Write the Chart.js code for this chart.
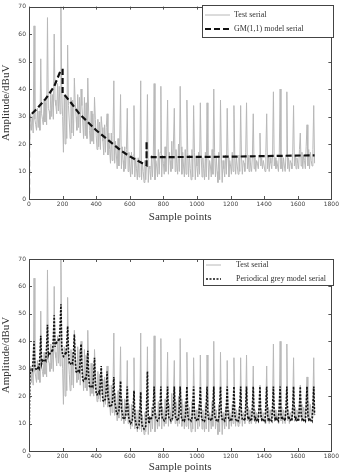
<!DOCTYPE html>
<html>
<head>
<meta charset="utf-8">
<script src="https://cdn.jsdelivr.net/npm/chart.js@4/dist/chart.umd.min.js"></script>
<style>
html,body{margin:0;padding:0;background:#fff;}
#w1{position:absolute;left:0;top:0;width:341px;height:232px;}
#w2{position:absolute;left:0;top:240px;width:341px;height:234px;}
</style>
</head>
<body>
<div id="w1"><canvas id="c1"></canvas></div>
<div id="w2"><canvas id="c2"></canvas></div>
<script>
// sample points of the test serial, one value every 5 samples (0..1700)
const sampleStep = 5;
const testSerial = [
20,24,31,25,30,24,63,29, 27,25,33,26,32,25,51,31, 29,27,36,28,35,27,66,33, 32,29,39,30,38,29,60,36,
34,31,42,32,41,31,70,40, 30,17,38,20,37,22,56,34, 28,22,37,24,36,23,44,35, 30,25,38,26,37,24,40,34,
28,22,37,23,35,22,44,32, 25,20,32,21,31,20,37,29, 23,18,29,19,28,18,30,26,
21,16,27,17,26,31,16,24, 18,13,24,14,23,43,13,21, 16,11,22,12,21,38,11,19, 14,10,19,11,18,33,10,17,
12,8,17,9,16,34,8,15, 11,7,15,8,14,43,7,13, 10,6,14,7,13,38,6,12, 11,7,16,8,15,42,7,14,
12,8,18,9,17,41,8,16, 13,9,19,10,18,36,9,17, 14,10,21,11,20,33,10,18,
13,9,20,10,41,19,9,17, 12,8,18,9,36,17,8,16, 11,7,18,8,34,17,7,15, 12,8,17,9,35,16,8,15,
11,7,17,8,35,16,7,14, 12,8,18,9,40,17,8,15, 10,6,17,7,36,16,6,14, 11,8,16,9,33,15,8,14,
12,9,17,10,34,16,9,15, 12,9,16,10,34,15,9,14,
13,10,17,35,11,16,10,15, 12,10,16,31,11,15,10,14, 13,11,16,24,12,15,11,14, 12,10,17,31,11,16,10,15,
13,11,16,39,12,15,11,14, 12,10,17,40,11,16,10,15, 12,10,16,39,11,15,10,14, 13,11,17,34,12,16,11,15,
13,11,18,24,12,17,11,16, 14,11,19,27,12,18,11,17, 14,12,18,34,13
];
// GM(1,1) model serial (sample point, amplitude)
const gmX = [0,0,50,100,150,190,200,200,210,250,300,350,400,450,500,550,600,650,700,700,700,1200,1700];
const gmY = [2,30,33,36.5,41,47,47,38.5,38,35,31,28,25,22.5,20,17.5,15.5,13.8,12.3,21,15.2,15.4,15.9];
// Periodical grey model serial, one value every 5 samples (0..1700)
const pgmSerial = [
0,27,29.5,30,29.5,33.7,40,31, 30,29.5,30,30.5,30,34.8,42,31.8, 33,32.5,33,33.5,33,38.2,46,35,
36,35.5,36,36.5,36,41.4,49.5,38, 40,39.5,40,40.5,40,45.4,53.5,38, 35,34.5,35,35.5,35,39.2,45.5,36.6,
32,31.5,32,32.5,32,36.2,42.5,33.6, 29,28.5,29,29.5,29,33,39,30.5, 26,25.5,26,26.5,26,30.2,36.5,27.6,
23.5,23,23.5,24,23.5,27.7,34,25, 21,20.5,21,21.5,21,25,31,22.5,
18.5,18,18.5,19,22.7,29,20,18.5, 16.5,16,16.5,17,20.7,27,18,16.5, 14,13.5,14,14.5,18.6,25.5,15.7,14,
12,11.5,12,12.5,16.6,23.5,13.7,12, 10.5,10,10.5,11,15.1,22,12.2,10.5, 9,8.5,9,9.5,14,21.5,10.9,9,
8.5,8,8.5,9,16.7,29,11.6,10, 12,11.5,12,12.5,16.6,23.5,13.7,12, 11.5,11,11.5,12,16.3,23.5,13.3,11.5,
11.5,11,11.5,12,16.3,23.5,13.3,11.5, 11.5,11,11.5,12,16.3,23.5,13.3,11.5,
11.5,11,12,16.3,23.5,13.3,11.5,11.2, 11.5,11,12,16.3,23.5,13.3,11.5,11.2, 11.5,11,12,16.3,23.5,13.3,11.5,11.2,
11.5,11,12,16.3,23.5,13.3,11.5,11.2, 11.5,11,12,16.3,23.5,13.3,11.5,11.2, 11.5,11,12,16.3,23.5,13.3,11.5,11.2,
11.5,11,12,16.3,23.5,13.3,11.5,11.2, 11.5,11,12,16.3,23.5,13.3,11.5,11.2, 11.5,11,12,16.3,23.5,13.3,11.5,11.2,
11.5,11,12,16.3,23.5,13.3,11.5,11.2,
11.5,11,16.3,23.5,13.3,11.5,12,11.2, 11.5,11,16.3,23.5,13.3,11.5,12,11.2, 11.5,11,16.3,23.5,13.3,11.5,12,11.2,
11.5,11,16.3,23.5,13.3,11.5,12,11.2, 11.5,11,16.3,23.5,13.3,11.5,12,11.2, 11.5,11,16.3,23.5,13.3,11.5,12,11.2,
11.5,11,16.3,23.5,13.3,11.5,12,11.2, 11.5,11,16.3,23.5,13.3,11.5,12,11.2, 11.5,11,16.3,23.5,13.3,11.5,12,11.2,
11.5,11,16.3,23.5,13.3,11.5,12,11.2, 11.5,11,16.3,23.5,13.3
];
const xTicks = [0,200,400,600,800,1000,1200,1400,1600,1800];
const yTicks = [0,10,20,30,40,50,60,70];
const xTitle = 'Sample points';
const yTitle = 'Amplitude/dBuV';
const legend1 = ['Test serial','GM(1,1) model serial'];
const legend2 = ['Test serial','Periodical grey model serial'];

const toXY = (arr) => arr.map((v,i)=>({x:i*sampleStep,y:v}));
const pairXY = (xs,ys) => xs.map((x,i)=>({x:x,y:ys[i]}));

const FONT = 'DejaVu Sans';
const SERIF = 'Liberation Serif';

const framePlugin = {
  id:'frame',
  afterDraw(chart){
    const ctx = chart.ctx, a = chart.chartArea;
    const xs = chart.scales.x, ys = chart.scales.y;
    ctx.save();
    ctx.strokeStyle = '#555';
    ctx.lineWidth = 1;
    ctx.beginPath();
    xTicks.forEach(t=>{
      const p = Math.round(xs.getPixelForValue(t))+0.5;
      ctx.moveTo(p,a.bottom); ctx.lineTo(p,a.bottom-3);
      ctx.moveTo(p,a.top); ctx.lineTo(p,a.top+3);
    });
    yTicks.forEach(t=>{
      const p = Math.round(ys.getPixelForValue(t))+0.5;
      ctx.moveTo(a.left,p); ctx.lineTo(a.left+3,p);
      ctx.moveTo(a.right,p); ctx.lineTo(a.right-3,p);
    });
    ctx.stroke();
    ctx.strokeStyle = '#444';
    ctx.strokeRect(Math.round(a.left)+0.5, Math.round(a.top)+0.5, Math.round(a.right-a.left), Math.round(a.bottom-a.top));
    // legend
    const o = chart.options.plugins.boxLegend;
    ctx.fillStyle = '#fff';
    ctx.fillRect(o.x, o.y, o.w, o.h);
    ctx.strokeStyle = '#444';
    ctx.strokeRect(o.x+0.5, o.y+0.5, o.w, o.h);
    ctx.font = '8px "' + SERIF + '"';
    ctx.textBaseline = 'middle';
    ctx.textAlign = 'left';
    o.items.forEach((it,i)=>{
      const ds = chart.data.datasets[i];
      const yy = o.y + o.rows[i];
      ctx.save();
      ctx.strokeStyle = ds.borderColor;
      ctx.lineWidth = ds.borderWidth;
      ctx.setLineDash(ds.borderDash || []);
      ctx.beginPath();
      ctx.moveTo(o.x+3, yy); ctx.lineTo(o.x+o.lineLen, yy);
      ctx.stroke();
      ctx.restore();
      ctx.fillStyle = '#333';
      ctx.fillText(it, o.x+o.textX, yy);
    });
    ctx.restore();
  }
};

function makeChart(id, datasets, legendItems, legendBox, pad, xH){
  return new Chart(document.getElementById(id), {
    type:'line',
    data:{datasets:datasets},
    plugins:[framePlugin],
    options:{
      responsive:true, maintainAspectRatio:false, animation:false,
      layout:{padding:{top:pad.top,right:8,bottom:pad.bottom,left:0}},
      elements:{point:{radius:0}, line:{tension:0}},
      plugins:{legend:{display:false}, tooltip:{enabled:false},
        boxLegend:Object.assign({items:legendItems}, legendBox)},
      scales:{
        x:{type:'linear', min:0, max:1800,
          afterBuildTicks(s){ s.ticks = xTicks.map(v=>({value:v})); },
          afterFit(s){ s.height = xH; },
          ticks:{font:{family:FONT,size:6}, color:'#444', padding:2, maxRotation:0, autoSkip:false,
            callback:(v)=>String(v)},
          grid:{display:false, drawTicks:false}, border:{display:false},
          title:{display:true, text:xTitle, font:{family:SERIF,size:11}, color:'#333', padding:{top:3,bottom:0}}
        },
        y:{type:'linear', min:0, max:70,
          afterBuildTicks(s){ s.ticks = yTicks.map(v=>({value:v})); },
          afterFit(s){ s.width = 29; },
          ticks:{font:{family:FONT,size:6}, color:'#444', padding:3, callback:(v)=>String(v)},
          grid:{display:false, drawTicks:false}, border:{display:false},
          title:{display:true, text:yTitle, font:{family:SERIF,size:11}, color:'#333', padding:{top:0,bottom:0}}
        }
      }
    }
  });
}

makeChart('c1', [
  {data:toXY(testSerial), borderColor:'#b8b8b8', borderWidth:1, order:2},
  {data:pairXY(gmX,gmY), borderColor:'#111', borderWidth:2.2, borderDash:[6,3], order:1}
], legend1, {x:202,y:5,w:131,h:32,rows:[10,24],lineLen:28,textX:32}, {top:5,bottom:8}, 25);

makeChart('c2', [
  {data:toXY(testSerial), borderColor:'#b8b8b8', borderWidth:1, order:2},
  {data:toXY(pgmSerial), borderColor:'#111', borderWidth:1.6, borderDash:[2,1.5], order:1}
], legend2, {x:203,y:19,w:130,h:26,rows:[6,20],lineLen:18,textX:33}, {top:19,bottom:0}, 23);
</script>
</body>
</html>
